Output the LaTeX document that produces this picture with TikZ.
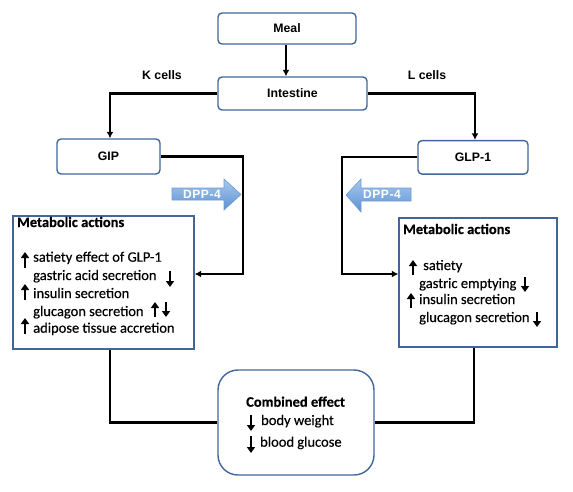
\documentclass[tikz,border=0pt]{standalone}
\usepackage{fontspec}
\setmainfont{Carlito}[FakeBold=0.3]
\newfontfamily\hdr{Liberation Sans}
\newfontfamily\dppfont[LetterSpace=5]{Liberation Sans}
\usetikzlibrary{arrows.meta}
\definecolor{boxblue}{HTML}{41669C}
\definecolor{dppLight}{HTML}{A9C8EC}
\definecolor{dppDark}{HTML}{5C92D3}
\definecolor{dppEdge}{HTML}{6F9BD2}
\begin{document}
\begin{tikzpicture}[x=1pt,y=-1pt,
  hbox/.style={draw=boxblue, line width=1.4pt, rounded corners=4pt, fill=white, inner sep=0pt,
    font=\hdr\bfseries\fontsize{12.3}{14}\selectfont},
  lbl/.style={inner sep=0pt, font=\hdr\bfseries\fontsize{12.3}{14}\selectfont},
  mbox/.style={draw=boxblue, line width=1.4pt, fill=white, inner sep=0pt},
  conn/.style={line width=2.2pt, -{Latex[length=6.5pt,width=7pt]}},
  plainconn/.style={line width=2.2pt},
  btxt/.style={anchor=base west, inner sep=0pt, font=\fontsize{14.5}{17}\selectfont},
  marr/.style={line width=2.7pt, -{Triangle[length=6pt,width=8pt]}},
  dppshape/.style={top color=dppLight, bottom color=dppDark, draw=dppEdge, line width=0.6pt},
  dpp/.style={inner sep=0pt, text=white, font=\dppfont\bfseries\fontsize{12}{14}\selectfont}
]
\useasboundingbox (0,0) rectangle (573,491);

% header boxes
\node[hbox, minimum width=138pt, minimum height=31pt] (meal) at (287,28.5) {Meal};
\node[hbox, minimum width=149pt, minimum height=33pt] (intest) at (292.5,93.5) {Intestine};
\node[hbox, minimum width=103pt, minimum height=35pt] (gip) at (108.5,156.5) {GIP};
\node[hbox, minimum width=110pt, minimum height=33.5pt] (glp) at (473,157.3) {GLP-1};
\node[lbl] (kc) at (162,75) {K cells};
\node[lbl] (lc) at (427,75) {L cells};

% DPP-4 arrows
\path[dppshape] (172,188) -- (224,188) -- (224,179) -- (241,194.5) -- (224,210) -- (224,200) -- (172,200) -- cycle;
\node[dpp] (dppl) at (202,194.5) {DPP-4};
\path[dppshape] (411,188) -- (361,188) -- (361,179) -- (346,195) -- (361,212) -- (361,201) -- (411,201) -- cycle;
\node[dpp] (dppr) at (382,194.5) {DPP-4};

% metabolic boxes
\node[mbox, minimum width=181pt, minimum height=133pt] (metl) at (103.5,282.5) {};
\node[mbox, minimum width=158pt, minimum height=129pt] (metr) at (478,282.5) {};
\node[mbox, rounded corners=20pt, minimum width=156pt, minimum height=105pt] (comb) at (296,422.5) {};

% left box text
\node[btxt] (mlt) at (17,227) {\bfseries Metabolic actions};
\node[btxt] (l1) at (33,261.7) {satiety effect of GLP-1};
\node[btxt] (l2) at (33,280) {gastric acid secretion};
\node[btxt] (l3) at (33,298) {insulin secretion};
\node[btxt] (l4) at (33,316) {glucagon secretion};
\node[btxt] (l5) at (33,332.7) {adipose tissue accretion};
% right box text
\node[btxt] (mrt) at (403,234) {\bfseries Metabolic actions};
\node[btxt] (r1) at (423,270) {satiety};
\node[btxt] (r2) at (419,288) {gastric emptying};
\node[btxt] (r3) at (419,304) {insulin secretion};
\node[btxt] (r4) at (419,322) {glucagon secretion};
% combined text
\node[btxt] (ct) at (246,406.7) {\bfseries Combined effect};
\node[btxt] (c1) at (261,425) {body weight};
\node[btxt] (c2) at (260,446.7) {blood glucose};

% small up/down arrows
\draw[marr] (25,267.5) -- (25,252);
\draw[marr] (170,271) -- (170,287);
\draw[marr] (25,300) -- (25,284);
\draw[marr] (155,317) -- (155,302);
\draw[marr] (166,302) -- (166,317);
\draw[marr] (25,334) -- (25,318);
\draw[marr] (413,275) -- (413,260);
\draw[marr] (525,277) -- (525,292);
\draw[marr] (411,308) -- (411,293);
\draw[marr] (537,312) -- (537,327);
\draw[marr] (251,415) -- (251,431);
\draw[marr] (251,436) -- (251,453);

% connectors
\draw[conn] ([xshift=-1pt]meal.south) -- ([xshift=-1pt]meal.south |- intest.north);
\draw[conn] (intest.west) -| ([xshift=1.5pt]gip.north);
\draw[conn] (intest.east) -| ([xshift=2pt]glp.north);
\coordinate (gipturn) at (243,274);
\draw[conn] (gip.east) -| (gipturn) -- (metl.east |- gipturn);
\coordinate (glpturn) at (342,274);
\draw[conn] (glp.west) -| (glpturn) -- (metr.west |- glpturn);
\draw[plainconn] ([xshift=6.5pt]metl.south) |- (comb.west);
\draw[plainconn] ([xshift=-4pt]metr.south) |- (comb.east);
\end{tikzpicture}
\end{document}
